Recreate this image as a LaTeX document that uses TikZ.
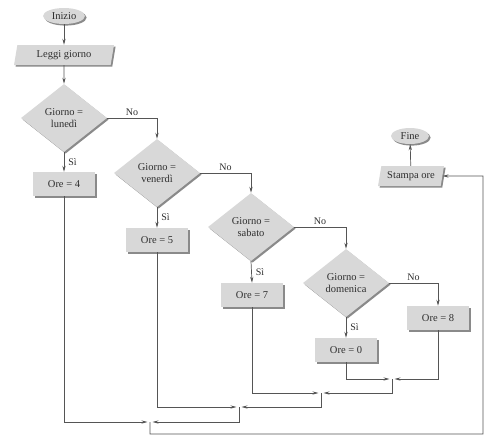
\documentclass[tikz,border=0pt]{standalone}
\usepackage{fontspec}
\setmainfont{Liberation Serif}
\usetikzlibrary{shapes.geometric,shadows,arrows.meta}
\definecolor{boxfill}{HTML}{D8D8D8}
\definecolor{shad}{HTML}{8A8A8A}
\definecolor{ln}{HTML}{555555}
\definecolor{tx}{HTML}{2E2E2E}
\begin{document}
\begin{tikzpicture}[x=1pt,y=-1pt,
  base/.style={fill=boxfill,draw=none,text=tx,font=\fontsize{10.5}{11.5}\selectfont,
    drop shadow={shadow xshift=1.6pt,shadow yshift=-1.6pt,fill=shad,opacity=1},inner sep=0pt,align=center},
  term/.style={base,ellipse,minimum width=42pt,minimum height=16pt},
  io/.style={base,trapezium,trapezium left angle=70,trapezium right angle=110,trapezium stretches body,minimum height=20pt},
  proc/.style={base,rectangle,minimum width=62pt,minimum height=24pt},
  dec/.style={base,diamond,minimum width=86pt,minimum height=68pt},
  arr/.style={draw=ln,line width=0.7pt,-{Stealth[length=6pt,width=3.2pt]}},
  lab/.style={text=tx,font=\fontsize{10}{11}\selectfont,inner sep=2pt}]
\useasboundingbox (0,0) rectangle (502,447);
\node[term] (inizio) at (64,16) {Inizio};
\node[io,minimum width=100pt] (leggi) at (64,55) {Leggi giorno};
\node[dec] (d1) at (64,118) {Giorno =\\lunedì};
\node[proc] (o4) at (64,184) {Ore = 4};
\node[dec] (d2) at (157,173) {Giorno =\\venerdì};
\node[proc] (o5) at (157,240) {Ore = 5};
\node[dec] (d3) at (251,227) {Giorno =\\sabato};
\node[proc] (o7) at (252,295) {Ore = 7};
\node[dec] (d4) at (346,283) {Giorno =\\domenica};
\node[proc] (o0) at (346,350) {Ore = 0};
\node[proc] (o8) at (438,318) {Ore = 8};
\node[term,minimum width=38pt] (fine) at (410,136) {Fine};
\node[io,minimum width=66pt] (stampa) at (411,176) {Stampa ore};

\draw[arr] (inizio) -- (leggi);
\draw[arr] (leggi) -- (d1);
\draw[arr] (d1.south) -- node[lab,right,xshift=2pt]{Sì} (o4.north);
\draw[arr] (d1.east) -| node[lab,above,pos=0.25]{No} (d2.north);
\draw[arr] (d2.south) -- node[lab,right,xshift=2pt]{Sì} (o5.north);
\draw[arr] (d2.east) -| node[lab,above,pos=0.25]{No} (d3.north);
\draw[arr] (d3.south) -- node[lab,right,xshift=2pt]{Sì} (o7.north);
\draw[arr] (d3.east) -| node[lab,above,pos=0.25]{No} (d4.north);
\draw[arr] (d4.south) -- node[lab,right,xshift=2pt]{Sì} (o0.north);
\draw[arr] (d4.east) -| node[lab,above,pos=0.25]{No} (o8.north);
\draw[arr] (stampa) -- (fine);

\coordinate (j1) at (392,379);
\coordinate (j2) at (321,393);
\coordinate (j3) at (239,407);
\coordinate (j4) at (150,422);
\coordinate (r1) at (483,434);
\coordinate (r2) at (483,176);
\draw[arr,shorten >=2.5pt] (o0.south) |- (j1);
\draw[arr,shorten >=2.5pt] (o8.south) |- (j1);
\draw[arr,shorten >=2.5pt] (o7.south) |- (j2);
\draw[arr,shorten >=2.5pt] (j1) |- (j2);
\draw[arr,shorten >=2.5pt] (o5.south) |- (j3);
\draw[arr,shorten >=2.5pt] (j2) |- (j3);
\draw[arr,shorten >=2.5pt] (o4.south) |- (j4);
\draw[arr,shorten >=2.5pt] (j3) |- (j4);
\draw[arr] (j4) |- (r1) -- (r2) -- (stampa.east);
\end{tikzpicture}
\end{document}
